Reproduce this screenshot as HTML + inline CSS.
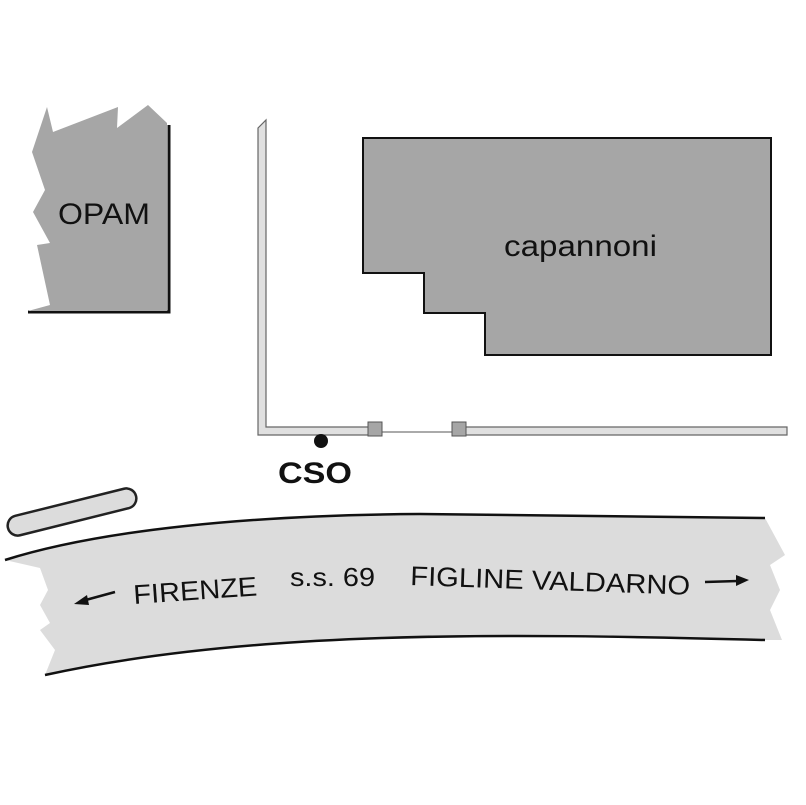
<!DOCTYPE html>
<html><head><style>body{margin:0;background:#fff}svg{display:block}</style></head>
<body>
<svg width="806" height="805" viewBox="0 0 806 805" xmlns="http://www.w3.org/2000/svg" font-family="Liberation Sans, Arial, sans-serif">
<polyline points="169,125 169,312 28,312" fill="none" stroke="#111" stroke-width="3"/>
<polygon points="47,107 53,132 118,107 117,128 148,105 167,123 167,311 28,311 50,305 37,245 50,243 33,212 45,190 32,152" fill="#a6a6a6"/>
<text x="58" y="224" font-size="30" textLength="92" lengthAdjust="spacingAndGlyphs" fill="#111">OPAM</text>
<polygon points="363,138 771,138 771,355 485,355 485,313 424,313 424,273 363,273" fill="#a6a6a6" stroke="#111" stroke-width="2"/>
<text x="504" y="256" font-size="30" textLength="153" lengthAdjust="spacingAndGlyphs" fill="#111">capannoni</text>
<path d="M258,128 L266,120 L266,427 L370,427 L370,435 L258,435 Z" fill="#e0e0e0" stroke="#666" stroke-width="1.2"/>
<path d="M460,427 L787,427 L787,435 L460,435 Z" fill="#e0e0e0" stroke="#666" stroke-width="1.2"/>
<line x1="382" y1="432" x2="452" y2="432" stroke="#555" stroke-width="1"/>
<rect x="368" y="422" width="14" height="14" fill="#a6a6a6" stroke="#555"/>
<rect x="452" y="422" width="14" height="14" fill="#a6a6a6" stroke="#555"/>
<circle cx="321" cy="441" r="7" fill="#111"/>
<text x="278" y="483" font-size="30" font-weight="bold" textLength="74" lengthAdjust="spacingAndGlyphs" fill="#111">CSO</text>
<rect x="6" y="502" width="132" height="20" rx="10" fill="#dcdcdc" stroke="#222" stroke-width="2.5" transform="rotate(-14 72 512)"/>
<path d="M5,560 C100,530 250,515 420,514 L765,518 L785,555 L770,565 L780,590 L770,610 L782,640 L765,640 C500,633 250,630 45,675 L55,650 L40,630 L50,623 L40,605 L48,590 L40,568 Z" fill="#dcdcdc"/>
<path d="M5,560 C100,530 250,515 420,514 L765,518" fill="none" stroke="#111" stroke-width="2.5"/>
<path d="M45,675 C250,630 500,633 765,640" fill="none" stroke="#111" stroke-width="2.5"/>
<text x="134" y="604" font-size="27" textLength="124" lengthAdjust="spacingAndGlyphs" fill="#111" transform="rotate(-4 134 604)">FIRENZE</text>
<text x="290" y="586" font-size="26" textLength="85" lengthAdjust="spacingAndGlyphs" fill="#111">s.s. 69</text>
<text x="410" y="585" font-size="27" textLength="280" lengthAdjust="spacingAndGlyphs" fill="#111" transform="rotate(2 410 585)">FIGLINE VALDARNO</text>
<line x1="82" y1="601" x2="115" y2="592" stroke="#111" stroke-width="2.5"/>
<polygon points="74,604 87,595 89,605" fill="#111"/>
<line x1="705" y1="582" x2="738" y2="581" stroke="#111" stroke-width="2.5"/>
<polygon points="749,580 736,575 736,586" fill="#111"/>
</svg>
</body></html>
